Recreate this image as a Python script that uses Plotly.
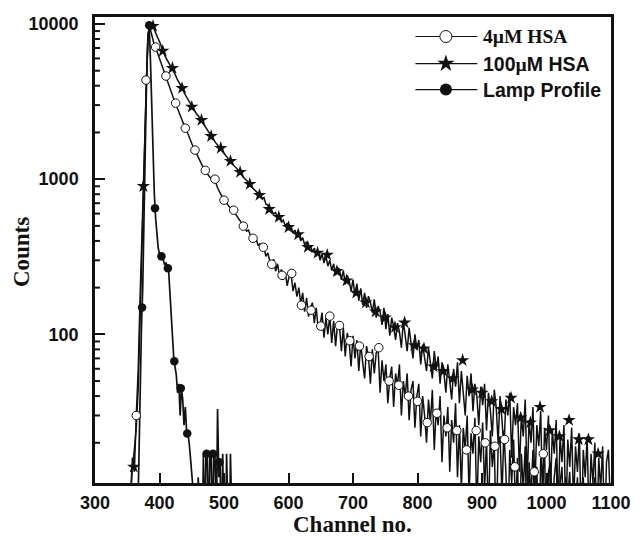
import plotly.graph_objects as go

# ---------------- data ----------------
# decay traces: counts every 3 channels, starting at channel 352
trace_start = 352
trace_step = 3
hsa4_counts = [
    6, 9, 16, 13, 30, 60, 180, 520, 1500, 4350,
    8600, 9500, 8400, 7600, 7050, 6500, 5950, 5500, 5000, 4650,
    4300, 3900, 3600, 3350, 3120, 2920, 2700, 2520, 2330, 2180,
    2060, 1900, 1790, 1660, 1560, 1470, 1380, 1300, 1240, 1160,
    1120, 1070, 1030, 1010, 990, 960, 880, 830, 780, 740,
    720, 690, 672, 640, 630, 605, 580, 548, 530, 500,
    495, 462, 470, 432, 425, 395, 410, 372, 385, 350,
    360, 318, 335, 295, 285, 305, 255, 285, 240, 262,
    225, 250, 205, 238, 245, 190, 215, 175, 200, 158,
    185, 140, 172, 130, 148, 160, 118, 148, 108, 115,
    138, 95, 128, 100, 132, 88, 122, 84, 116, 114,
    78, 110, 72, 102, 90, 62, 98, 70, 92, 58,
    88, 66, 52, 84, 72, 48, 80, 56, 76, 80,
    42, 68, 50, 64, 36, 52, 62, 34, 56, 47,
    64, 30, 50, 40, 56, 28, 44, 50, 25, 40,
    48, 22, 40, 30, 20, 38, 27, 44, 18, 33,
    26, 40, 15, 30, 22, 34, 13, 28, 20, 36,
    12, 26, 10, 25, 18, 30, 9, 23, 17, 29,
    7, 22, 15, 27, 10, 21, 6, 24, 14, 20,
    5, 19, 22, 9, 24, 13, 5, 18, 11, 21,
    7, 16, 4, 17, 10, 19, 4, 15, 9, 18,
    5, 14, 3, 16, 12, 18, 4, 13, 15, 7,
    12, 16, 6, 11, 14, 5, 12, 9, 13, 5,
    11, 8, 12, 4, 10, 12, 6, 9, 11, 5,
    8, 12, 4, 9, 7, 11, 5, 8, 10, 6,
]
hsa100_counts = [
    5, 8, 14, 18, 25, 45, 120, 380, 1100, 3500,
    7800, 9500, 9700, 9400, 8700, 8200, 7700, 7100, 6500, 6150,
    5850, 5550, 5300, 5100, 4750, 4450, 4250, 3980, 3800, 3550,
    3380, 3200, 3020, 2880, 2780, 2650, 2560, 2450, 2350, 2220,
    2120, 2020, 1940, 1860, 1790, 1720, 1660, 1600, 1560, 1480,
    1430, 1380, 1320, 1300, 1240, 1200, 1170, 1120, 1100, 1040,
    1010, 975, 950, 925, 880, 860, 830, 810, 785, 750,
    760, 690, 680, 640, 630, 595, 610, 560, 580, 530,
    545, 500, 520, 470, 495, 450, 470, 425, 445, 400,
    420, 378, 395, 352, 375, 338, 360, 318, 345, 300,
    330, 288, 320, 275, 300, 258, 285, 240, 270, 262,
    225, 258, 210, 240, 222, 190, 225, 178, 212, 165,
    198, 155, 185, 148, 176, 160, 138, 168, 128, 152,
    140, 115, 148, 108, 135, 98, 128, 112, 92, 118,
    104, 82, 122, 95, 78, 110, 88, 70, 100, 80,
    92, 64, 86, 72, 58, 82, 66, 52, 78, 60,
    72, 48, 66, 56, 42, 64, 50, 38, 60, 46,
    66, 36, 58, 44, 30, 54, 40, 56, 32, 48,
    40, 26, 46, 35, 48, 24, 42, 32, 22, 44,
    34, 20, 40, 28, 18, 38, 30, 42, 16, 34,
    26, 36, 13, 30, 22, 38, 11, 28, 20, 34,
    10, 26, 19, 32, 8, 25, 18, 30, 9, 24,
    17, 28, 7, 22, 15, 26, 6, 21, 14, 25,
    8, 19, 13, 23, 5, 18, 12, 22, 6, 17,
    11, 20, 5, 16, 10, 19, 5, 15, 18, 8,
]
# lamp profile: counts every 2 channels, starting at channel 360
lamp_start = 360
lamp_step = 2
lamp_counts = [
    3, 3, 4, 6, 15, 45, 110, 200, 700, 2000,
    4500, 8000, 9800, 5800, 2800, 1500, 800, 560, 430, 360,
    330, 318, 310, 300, 280, 290, 272, 267, 190, 130,
    95, 72, 62, 55, 42, 48, 30, 45, 38, 26,
    34, 24, 23, 20, 16, 13, 10, 8, 6, 5,
    12, 5, 4, 3, 17, 5, 17, 17, 5, 17,
    17, 5, 17, 17, 5, 33, 12, 15, 4, 17,
    4, 3, 17, 4, 3, 17, 3, 3,
]

# symbols drawn along each curve
hsa4_sym_ch = [364, 379, 394, 410, 425, 440, 455, 471, 486, 500, 515, 530, 545, 561,
               574, 590, 605, 620, 635, 650, 664, 679, 695, 710, 725, 740, 756, 771,
               786, 800, 815, 830, 846, 861, 876, 891, 905, 920, 935, 951, 981, 995]
hsa4_sym_counts = [30, 4350, 7100, 4620, 3090, 2130, 1540, 1140, 1000, 732, 631, 498, 416, 364,
                   283, 240, 247, 154, 143, 113, 131, 114, 91, 84, 72, 82, 50, 47,
                   40, 37, 27, 31, 25, 24, 18, 24, 20, 19, 21, 14, 13, 17]
hsa100_sym_ch = [360, 375, 390, 405, 420, 435, 450, 465, 480, 495, 510, 525, 540, 555,
                 570, 585, 600, 615, 630, 645, 660, 675, 690, 705, 720, 735, 750, 765,
                 780, 795, 810, 825, 840, 855, 870, 885, 900, 915, 930, 945, 960, 975,
                 990, 1005, 1020, 1035, 1050, 1065, 1080]
hsa100_sym_counts = [14, 900, 9700, 6700, 5200, 3860, 2920, 2400, 1890, 1585, 1306, 1110, 929, 790,
                     640, 570, 490, 440, 365, 335, 325, 255, 222, 185, 160, 140, 128, 111,
                     119, 85, 81, 62, 58, 52, 68, 44, 42, 37, 33, 39, 29, 27,
                     34, 24, 22, 28, 21, 21, 17]
lamp_sym_ch = [373, 384, 393, 403, 413, 423, 433, 443, 473, 483, 493]
lamp_sym_counts = [149, 9800, 650, 318, 267, 67, 45, 23, 17, 17, 15]

x_ticks = [300, 400, 500, 600, 700, 800, 900, 1000, 1100]
y_major = [100, 1000, 10000]
y_minor = [20, 30, 40, 50, 60, 70, 80, 90,
           200, 300, 400, 500, 600, 700, 800, 900,
           2000, 3000, 4000, 5000, 6000, 7000, 8000, 9000]

# ---------------- figure ----------------
trace_ch = [trace_start + trace_step * i for i in range(len(hsa4_counts))]
lamp_ch = [lamp_start + lamp_step * i for i in range(len(lamp_counts))]
ink = "#111"

fig = go.Figure()
fig.add_trace(go.Scatter(x=trace_ch, y=hsa4_counts, mode="lines",
                         line=dict(color=ink, width=1.5), showlegend=False))
fig.add_trace(go.Scatter(x=trace_ch, y=hsa100_counts, mode="lines",
                         line=dict(color=ink, width=1.5), showlegend=False))
fig.add_trace(go.Scatter(x=lamp_ch, y=lamp_counts, mode="lines",
                         line=dict(color=ink, width=1.7), showlegend=False))

circ = dict(symbol="circle", size=8.5, color="white", line=dict(color=ink, width=1))
star = dict(symbol="star", size=10, color=ink, line=dict(width=0))
dot = dict(symbol="circle", size=8.5, color=ink, line=dict(width=0))

fig.add_trace(go.Scatter(x=hsa4_sym_ch, y=hsa4_sym_counts, mode="markers",
                         marker=circ, showlegend=False))
fig.add_trace(go.Scatter(x=hsa100_sym_ch, y=hsa100_sym_counts, mode="markers",
                         marker=star, showlegend=False))
fig.add_trace(go.Scatter(x=lamp_sym_ch, y=lamp_sym_counts, mode="markers",
                         marker=dot, showlegend=False))

# hand-drawn legend in pixel coordinates (x2 / y3 map to screen pixels)
leg_rows = [37, 64, 90]
leg_markers = [dict(circ, size=12), dict(star, size=13), dict(dot, size=12)]
for row, mk in zip(leg_rows, leg_markers):
    fig.add_trace(go.Scatter(x=[421, 484], y=[row, row], mode="lines", xaxis="x2", yaxis="y3",
                             line=dict(color=ink, width=1.2), showlegend=False,
                             cliponaxis=False, hoverinfo="skip"))
    fig.add_trace(go.Scatter(x=[452], y=[row], mode="markers", xaxis="x2", yaxis="y3",
                             marker=mk, showlegend=False, cliponaxis=False, hoverinfo="skip"))

serif = "Liberation Serif"
sans = "Liberation Sans"
leg_texts = [
    "4\u00b5M HSA",
    "100<span style='font-family:Liberation Serif'>\u00b5</span>M HSA",
    "Lamp Profile",
]
leg_fonts = [serif, sans, sans]
annotations = []
for row, txt, fam in zip(leg_rows, leg_texts, leg_fonts):
    annotations.append(dict(x=488, y=row, xref="x2", yref="y3", text=txt, showarrow=False,
                            xanchor="left", yanchor="middle",
                            font=dict(family=fam, size=19.5, color=ink, weight="bold")))
annotations.append(dict(x=-0.141, y=0.496, xref="paper", yref="paper", text="Counts",
                        textangle=-90, showarrow=False, xanchor="center", yanchor="middle",
                        font=dict(family=serif, size=23, color=ink, weight="bold")))
annotations.append(dict(x=0.499, y=-0.088, xref="paper", yref="paper", text="Channel no.",
                        showarrow=False, xanchor="center", yanchor="middle",
                        font=dict(family=serif, size=23, color=ink, weight="bold")))

# short inward minor ticks on the log axis, drawn as shapes at the minor values
plot_w = 525
shapes = [dict(type="line", xref="x domain", yref="y", x0=0, x1=5 / plot_w,
               y0=v, y1=v, line=dict(color=ink, width=2)) for v in y_minor]

yrange = [1.042, 4.045]
tickfont = dict(family=sans, size=18, color=ink, weight="bold")
fig.update_layout(
    width=643, height=540,
    margin=dict(l=95, r=23, t=17, b=57),
    paper_bgcolor="white", plot_bgcolor="white",
    showlegend=False,
    annotations=annotations,
    shapes=shapes,
    xaxis=dict(range=[300, 1100], tickvals=x_ticks, ticks="inside", ticklen=10, tickwidth=2,
               tickcolor=ink, showgrid=False, zeroline=False, showline=True,
               linecolor=ink, linewidth=2.5, mirror=True, tickfont=tickfont,
               ticklabelstandoff=2),
    yaxis=dict(type="log", range=yrange, tickvals=y_major, ticktext=[str(v) for v in y_major],
               ticks="inside", ticklen=10, tickwidth=2, tickcolor=ink, showgrid=False,
               zeroline=False, showline=True, linecolor=ink, linewidth=2.5, mirror=True,
               tickfont=tickfont, ticklabelstandoff=10),
    xaxis2=dict(range=[95, 620], overlaying="x", visible=False),
    yaxis3=dict(range=[483, 17.5], overlaying="y", visible=False),
)
fig.write_html("out.html")
